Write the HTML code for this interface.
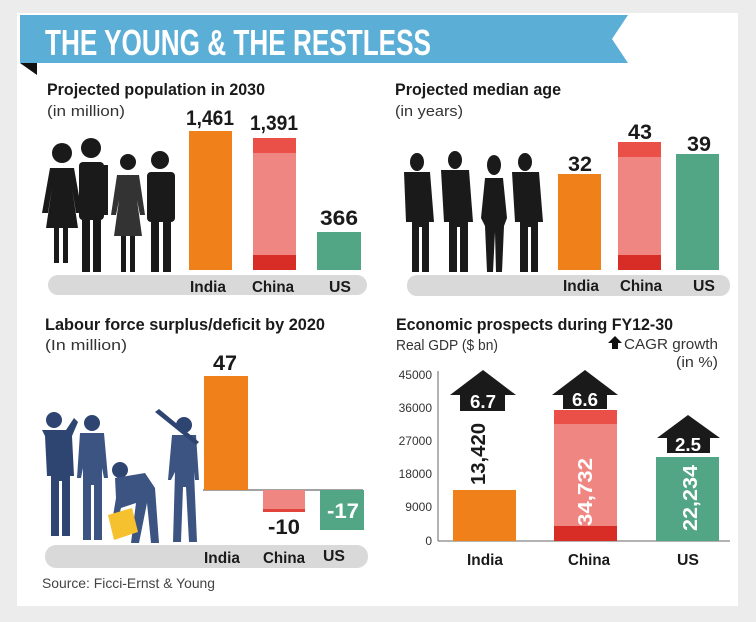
<!DOCTYPE html>
<html><head><meta charset="utf-8"><style>
html,body{margin:0;padding:0;background:#ececec;}
svg{display:block;}
text{font-family:"Liberation Sans",sans-serif;}
.t{font-weight:bold;font-size:17px;fill:#1a1a1a;}
.s{font-size:15px;fill:#333;}
.v{font-weight:bold;font-size:21px;fill:#1a1a1a;}
.l{font-weight:bold;font-size:16px;fill:#1a1a1a;}
.ax{font-size:12px;fill:#333;}
</style></head><body>
<svg width="756" height="622" viewBox="0 0 756 622" xmlns="http://www.w3.org/2000/svg">
<rect width="756" height="622" fill="#ececec"/>
<rect x="17" y="13" width="721" height="593" fill="#ffffff"/>
<!-- banner -->
<polygon points="20,15 628,15 612,39 628,63 20,63" fill="#5baed6"/>
<polygon points="20,63 37,63 37,75" fill="#111"/>
<text x="45" y="55" font-size="36" font-weight="bold" fill="#fff" textLength="386" lengthAdjust="spacingAndGlyphs">THE YOUNG &amp; THE RESTLESS</text>

<!-- Panel 1 -->
<text class="t" x="47" y="95" textLength="218" lengthAdjust="spacingAndGlyphs">Projected population in 2030</text>
<text class="s" x="47" y="116" textLength="78" lengthAdjust="spacingAndGlyphs">(in million)</text>
<rect x="48" y="275" width="319" height="20" rx="10" fill="#d9d9d9"/>
<g fill="#1a1a1a">
 <circle cx="62" cy="153" r="10"/><path d="M50,168 h24 l8,45 h-6 l-4,-25 l6,40 h-10 v35 h-5 v-35 h-4 v35 h-5 v-35 h-8 l6,-40 l-4,25 h-6z"/>
 <circle cx="91" cy="148" r="10"/><rect x="79" y="162" width="25" height="58" rx="4"/><rect x="82" y="215" width="8" height="57"/><rect x="93" y="215" width="8" height="57"/><rect x="103" y="165" width="5" height="50"/>
 <circle cx="128" cy="162" r="8"/><path d="M117,175 h22 l6,40 h-5 l-3,-15 l5,36 h-28 l5,-36 l-3,15 h-5z" fill="#333"/><rect x="121" y="236" width="5" height="36"/><rect x="130" y="236" width="5" height="36"/>
 <circle cx="160" cy="160" r="9"/><rect x="147" y="172" width="28" height="50" rx="4"/><rect x="151" y="220" width="8" height="52"/><rect x="163" y="220" width="8" height="52"/>
</g>
<rect x="189" y="131" width="43" height="139" fill="#f0801a"/>
<rect x="253" y="138" width="43" height="132" fill="#f08682"/>
<rect x="253" y="138" width="43" height="15" fill="#ea4f48"/>
<rect x="253" y="255" width="43" height="15" fill="#d82d26"/>
<rect x="317" y="232" width="44" height="38" fill="#52a585"/>
<text class="v" x="210" y="125" text-anchor="middle" textLength="48" lengthAdjust="spacingAndGlyphs">1,461</text>
<text class="v" x="274" y="130" text-anchor="middle" textLength="48" lengthAdjust="spacingAndGlyphs">1,391</text>
<text class="v" x="339" y="225" text-anchor="middle" textLength="38" lengthAdjust="spacingAndGlyphs">366</text>
<text class="l" x="208" y="292" text-anchor="middle" textLength="36" lengthAdjust="spacingAndGlyphs">India</text>
<text class="l" x="273" y="292" text-anchor="middle" textLength="42" lengthAdjust="spacingAndGlyphs">China</text>
<text class="l" x="340" y="292" text-anchor="middle" textLength="22" lengthAdjust="spacingAndGlyphs">US</text>

<!-- Panel 2 -->
<text class="t" x="395" y="95" textLength="166" lengthAdjust="spacingAndGlyphs">Projected median age</text>
<text class="s" x="395" y="116" textLength="68" lengthAdjust="spacingAndGlyphs">(in years)</text>
<rect x="407" y="275" width="323" height="21" rx="10" fill="#d9d9d9"/>
<g fill="#1a1a1a">
 <ellipse cx="417" cy="162" rx="7" ry="9"/><path d="M404,172 h26 l4,50 h-5 v50 h-7 v-45 h-3 v45 h-7 v-50 h-6z"/>
 <ellipse cx="455" cy="160" rx="7" ry="9"/><path d="M441,170 h28 l4,52 h-5 v50 h-8 v-45 h-3 v45 h-8 v-50 h-5z"/>
 <ellipse cx="494" cy="165" rx="7" ry="10"/><path d="M485,178 h18 l4,40 l-3,8 l-2,46 h-6 l-1,-40 l-2,40 h-6 l-2,-46 l-4,-8z"/>
 <ellipse cx="525" cy="162" rx="7" ry="9"/><path d="M512,172 h27 l4,50 h-5 v50 h-7 v-45 h-3 v45 h-8 v-50 h-5z"/>
</g>
<rect x="558" y="174" width="43" height="96" fill="#f0801a"/>
<rect x="618" y="142" width="43" height="128" fill="#f08682"/>
<rect x="618" y="142" width="43" height="15" fill="#ea4f48"/>
<rect x="618" y="255" width="43" height="15" fill="#d82d26"/>
<rect x="676" y="154" width="43" height="116" fill="#52a585"/>
<text class="v" x="580" y="171" text-anchor="middle" textLength="24" lengthAdjust="spacingAndGlyphs">32</text>
<text class="v" x="640" y="139" text-anchor="middle" textLength="24" lengthAdjust="spacingAndGlyphs">43</text>
<text class="v" x="699" y="151" text-anchor="middle" textLength="24" lengthAdjust="spacingAndGlyphs">39</text>
<text class="l" x="581" y="291" text-anchor="middle" textLength="36" lengthAdjust="spacingAndGlyphs">India</text>
<text class="l" x="641" y="291" text-anchor="middle" textLength="42" lengthAdjust="spacingAndGlyphs">China</text>
<text class="l" x="704" y="291" text-anchor="middle" textLength="22" lengthAdjust="spacingAndGlyphs">US</text>

<!-- Panel 3 -->
<text class="t" x="45" y="330" textLength="280" lengthAdjust="spacingAndGlyphs">Labour force surplus/deficit by 2020</text>
<text class="s" x="45" y="350" textLength="82" lengthAdjust="spacingAndGlyphs">(In million)</text>
<rect x="45" y="545" width="323" height="23" rx="11" fill="#d9d9d9"/>
<g fill="#2e4572">
 <circle cx="54" cy="420" r="8"/><path d="M42,430 h24 l8,-12 l4,4 l-6,14 l2,40 h-4 v60 h-8 v-55 h-3 v55 h-8 v-60 h-4 l-2,-40z"/>
 <circle cx="92" cy="423" r="8"/><path d="M80,433 h24 l4,45 h-4 l-2,-10 v72 h-8 v-55 h-3 v55 h-8 v-72 l-2,10 h-4z" fill="#3c5482"/>
 <circle cx="120" cy="470" r="8"/><path d="M115,478 l30,-5 l10,15 l4,55 h-8 l-4,-40 l-8,40 h-8 l5,-40 l-15,5 l-5,20 h-5 l5,-30z" fill="#3c5482"/>
 <circle cx="184" cy="425" r="8"/><path d="M172,435 h24 l3,45 h-4 l-1,-8 l3,70 h-8 l-3,-55 h-3 l-2,55 h-8 l2,-70 l-4,8 h-3z" fill="#3c5482"/>
 <path d="M155,412 l4,-3 l40,33 l-3,3z"/>
</g>
<polygon points="108,515 132,508 138,532 114,540" fill="#f5c12e"/>
<line x1="203" y1="490" x2="363" y2="490" stroke="#444" stroke-width="1"/>
<rect x="204" y="376" width="44" height="114" fill="#f0801a"/>
<rect x="263" y="490" width="42" height="22" fill="#f08682"/>
<rect x="263" y="509" width="42" height="3" fill="#e2443d"/>
<rect x="320" y="490" width="44" height="40" fill="#52a585"/>
<text class="v" x="225" y="370" text-anchor="middle" textLength="24" lengthAdjust="spacingAndGlyphs">47</text>
<text class="v" x="284" y="534" text-anchor="middle" textLength="32" lengthAdjust="spacingAndGlyphs">-10</text>
<text class="v" x="343" y="518" text-anchor="middle" fill="#fff" style="fill:#fff" textLength="32" lengthAdjust="spacingAndGlyphs">-17</text>
<text class="l" x="222" y="563" text-anchor="middle" textLength="36" lengthAdjust="spacingAndGlyphs">India</text>
<text class="l" x="284" y="563" text-anchor="middle" textLength="42" lengthAdjust="spacingAndGlyphs">China</text>
<text class="l" x="334" y="561" text-anchor="middle" textLength="22" lengthAdjust="spacingAndGlyphs">US</text>
<text x="42" y="588" font-size="14" fill="#444" textLength="173" lengthAdjust="spacingAndGlyphs">Source: Ficci-Ernst &amp; Young</text>

<!-- Panel 4 -->
<text class="t" x="396" y="330" textLength="277" lengthAdjust="spacingAndGlyphs">Economic prospects during FY12-30</text>
<text class="s" x="396" y="350" textLength="102" lengthAdjust="spacingAndGlyphs">Real GDP ($ bn)</text>
<polygon points="608,343 615,336 622,343 618,343 618,349 612,349 612,343" fill="#111"/>
<text class="s" x="624" y="349" textLength="94" lengthAdjust="spacingAndGlyphs">CAGR growth</text>
<text class="s" x="718" y="367" text-anchor="end" textLength="42" lengthAdjust="spacingAndGlyphs">(in %)</text>
<g class="ax" text-anchor="end">
<text class="ax" x="432" y="379">45000</text>
<text class="ax" x="432" y="412">36000</text>
<text class="ax" x="432" y="445">27000</text>
<text class="ax" x="432" y="478">18000</text>
<text class="ax" x="432" y="511">9000</text>
<text class="ax" x="432" y="545">0</text>
</g>
<line x1="438" y1="371" x2="438" y2="541" stroke="#666" stroke-width="1"/>
<line x1="438" y1="541" x2="730" y2="541" stroke="#666" stroke-width="1"/>
<rect x="453" y="490" width="63" height="51" fill="#f0801a"/>
<rect x="554" y="410" width="63" height="131" fill="#f08682"/>
<rect x="554" y="410" width="63" height="14" fill="#ea4f48"/>
<rect x="554" y="526" width="63" height="15" fill="#d82d26"/>
<rect x="656" y="457" width="63" height="84" fill="#52a585"/>
<g fill="#1a1a1a">
<polygon points="450,395 483,370 516,395 505,395 505,411 460,411 460,395"/>
<polygon points="552,395 585,370 618,395 607,395 607,409 563,409 563,395"/>
<polygon points="657,438 688,415 720,438 710,438 710,453 667,453 667,438"/>
</g>
<text x="483" y="408" text-anchor="middle" font-size="18" font-weight="bold" fill="#fff" textLength="26" lengthAdjust="spacingAndGlyphs">6.7</text>
<text x="585" y="406" text-anchor="middle" font-size="18" font-weight="bold" fill="#fff" textLength="26" lengthAdjust="spacingAndGlyphs">6.6</text>
<text x="688" y="451" text-anchor="middle" font-size="18" font-weight="bold" fill="#fff" textLength="26" lengthAdjust="spacingAndGlyphs">2.5</text>
<text transform="translate(485,485) rotate(-90)" font-size="20" font-weight="bold" fill="#1a1a1a" textLength="62" lengthAdjust="spacingAndGlyphs">13,420</text>
<text transform="translate(592,526) rotate(-90)" font-size="20" font-weight="bold" fill="#fff" textLength="68" lengthAdjust="spacingAndGlyphs">34,732</text>
<text transform="translate(697,531) rotate(-90)" font-size="20" font-weight="bold" fill="#fff" textLength="66" lengthAdjust="spacingAndGlyphs">22,234</text>
<text class="l" x="485" y="565" text-anchor="middle" textLength="36" lengthAdjust="spacingAndGlyphs">India</text>
<text class="l" x="589" y="565" text-anchor="middle" textLength="42" lengthAdjust="spacingAndGlyphs">China</text>
<text class="l" x="688" y="565" text-anchor="middle" textLength="22" lengthAdjust="spacingAndGlyphs">US</text>
</svg>
</body></html>
